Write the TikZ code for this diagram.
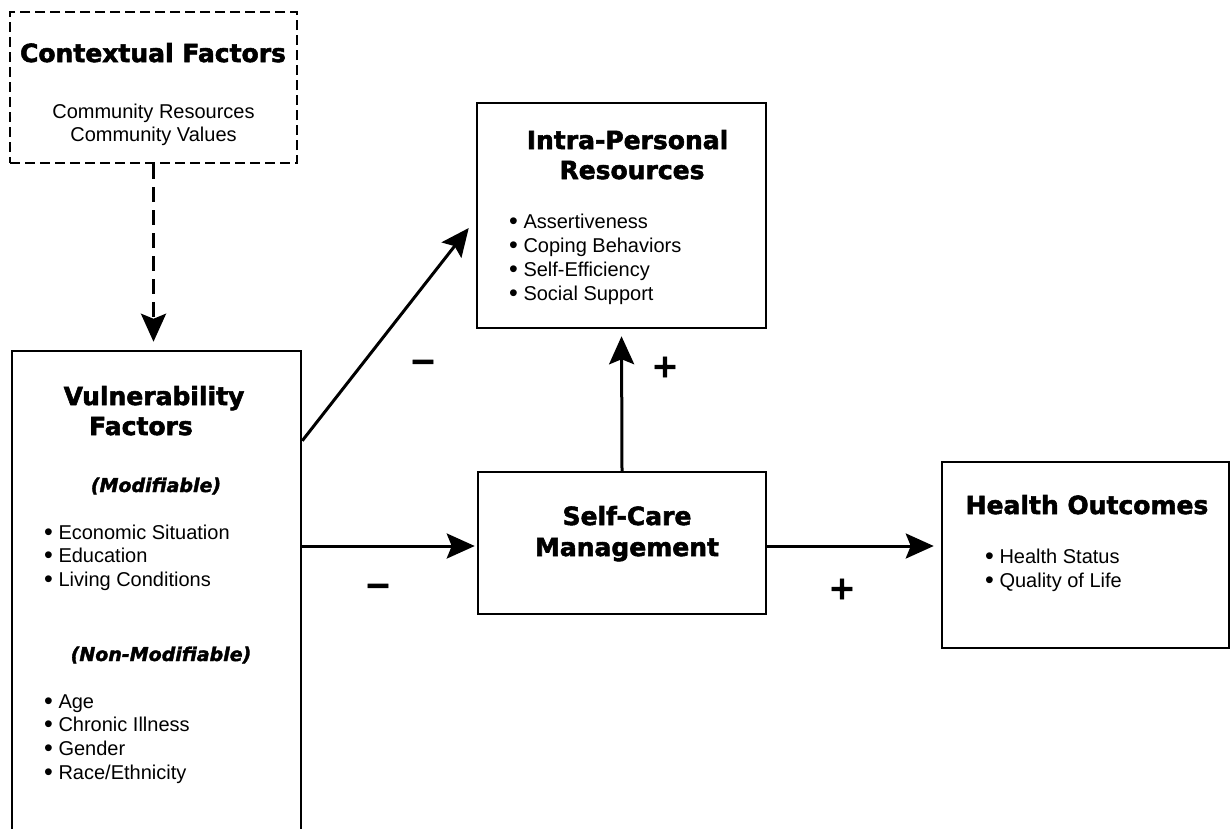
\documentclass[tikz,border=0pt]{standalone}
\usepackage{fontspec}
\setmainfont{Liberation Sans}
\newfontfamily\headfont{DejaVu Sans}[BoldFeatures={FakeBold=2.2},BoldItalicFeatures={FakeBold=1.8}]
\usetikzlibrary{calc,arrows.meta}
\newcommand{\dotitem}{\raisebox{-0.09em}{\scalebox{1.25}{\textbullet}}\ }

\tikzset{
  box/.style={draw, line width=2.5pt, inner sep=0pt},
  ctxbox/.style={draw, line width=2pt, dash pattern=on 10pt off 5pt, inner sep=0pt},
  flow/.style={line width=3pt, -{Stealth[length=28pt,width=25pt,inset=5pt]}},
  dflow/.style={flow, dash pattern=on 15pt off 8pt},
  title/.style={font=\headfont\bfseries\fontsize{25}{30}\selectfont, anchor=base},
  sub/.style={font=\headfont\bfseries\itshape\fontsize{19}{23}\selectfont, anchor=base},
  txt/.style={font=\fontsize{20}{23}\selectfont, anchor=base},
  item/.style={txt, anchor=base west, inner sep=0pt},
  sign/.style={font=\headfont\bfseries\fontsize{32}{34}\selectfont}
}

\begin{document}
\begin{tikzpicture}[x=1pt,y=-1pt]
			%%%%% START %%%%%
			\clip (0,0) rectangle (1230,828);
			
			% boxes
			\node[ctxbox, minimum width=287pt, minimum height=151pt] (ctx) at (153.5, 87.5) {};
			\node[box, minimum width=289pt, minimum height=498pt] (vuln) at (156.5, 600) {};
			\node[box, minimum width=289pt, minimum height=225pt] (intra) at (621.5, 215.5) {};
			\node[box, minimum width=288pt, minimum height=142pt] (care) at (622, 543) {};
			\node[box, minimum width=287pt, minimum height=186pt] (health) at (1085.5, 555) {};
			
			% contextual factors
			\node[title] (ctxtitle) at (153, 62) {Contextual Factors};
			\node[txt] (ctxres) at (153.5, 118) {Community Resources};
			\node[txt] (ctxval) at (153.5, 141) {Community Values};
			
			% vulnerability factors
			\node[title] (vtitle) at (154, 405) {Vulnerability};
			\node[title] (vtitleb) at (141, 435) {Factors};
			\node[sub] (vmod) at (156, 492) {(Modifiable)};
			\node[item] (veco) at (44, 539) {\dotitem Economic Situation};
			\node[item] (vedu) at (44, 562) {\dotitem Education};
			\node[item] (vliv) at (44, 586) {\dotitem Living Conditions};
			\node[sub] (vnon) at (161, 661) {(Non-Modifiable)};
			\node[item] (vage) at (44, 708) {\dotitem Age};
			\node[item] (vill) at (44, 731) {\dotitem Chronic Illness};
			\node[item] (vgen) at (44, 755) {\dotitem Gender};
			\node[item] (vrace) at (44, 779) {\dotitem Race/Ethnicity};
			
			% intra-personal resources
			\node[title] (ititle) at (627.5, 149) {Intra-Personal};
			\node[title] (ititleb) at (632, 179) {Resources};
			\node[item] (iass) at (509, 228) {\dotitem Assertiveness};
			\node[item] (icop) at (509, 252) {\dotitem Coping Behaviors};
			\node[item] (ieff) at (509, 276) {\dotitem Self-Efficiency};
			\node[item] (isoc) at (509, 300) {\dotitem Social Support};
			
			% self-care management
			\node[title] (ctitle) at (627, 525) {Self-Care};
			\node[title] (ctitleb) at (627, 556) {Management};
			
			% health outcomes
			\node[title] (htitle) at (1087, 514) {Health Outcomes};
			\node[item] (hsta) at (985, 563) {\dotitem Health Status};
			\node[item] (hqol) at (985, 587) {\dotitem Quality of Life};
			
			% arrows
			\draw[dflow, shorten >=8pt] (ctx.south) -- (ctx.south |- vuln.north);
			\draw[flow] ($(vuln.north east)+(0,91)$) -- ($(intra.west)+(-7,12.5)$);
			\draw[flow, shorten >=2pt] ($(vuln.east |- care.west)+(0,3)$) -- ($(care.west)+(0,3)$);
			\draw[flow, shorten >=7pt] (care.north) -- (intra.south);
			\draw[flow, shorten >=7pt] ($(care.east)+(0,3)$) -- ($(care.east -| health.west)+(0,3)$);
			
			% signs
			\node[sign] (mtop) at (423, 366) {−};
			\node[sign] (ptop) at (665, 367) {+};
			\node[sign] (mbot) at (378, 590) {−};
			\node[sign] (pbot) at (842, 589) {+};
			
			%%%%% END %%%%%
\end{tikzpicture}
\end{document}
